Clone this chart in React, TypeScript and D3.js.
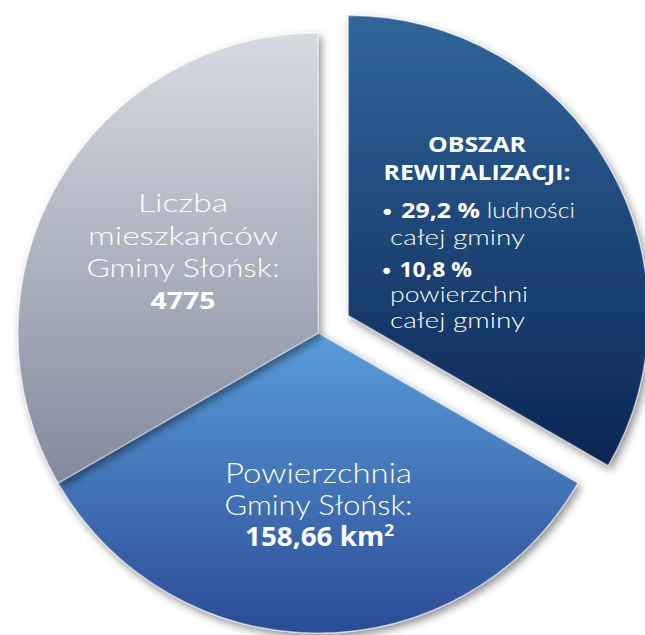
import React from "react";
import * as d3 from "d3";

const categories = ["OBSZAR REWITALIZACJI", "Powierzchnia", "Liczba mieszkańców"];
const values = [1, 1, 1];
const explode = [35, 0, 0];

const grayLines = ["Liczba", "mieszkańców", "Gminy Słońsk:"];
const grayValue = "4775";
const blueLines = ["Powierzchnia", "Gminy Słońsk:"];
const blueValue = "158,66 km";
const darkTitle = ["OBSZAR", "REWITALIZACJI:"];
const darkBullets = [
  { bold: "29,2 %", rest: [" ludności", "całej gminy"] },
  { bold: "10,8 %", rest: ["", "powierzchni", "całej gminy"] },
];

const W = 645;
const H = 635;
const cx = 318;
const cy = 333;
const R = 300;

const gradients = [
  ["#30669a", "#0b2554"],
  ["#5a9dd9", "#2a4c96"],
  ["#d6dbe2", "#838a9d"],
];

const grayW = [90, 190, 193];
const blueW = [187, 188];
const titleW = [98, 187];

export default function App() {
  const pie = d3.pie<number>().sort(null).value((d) => d)(values);
  const arc = d3.arc<d3.PieArcDatum<number>>().innerRadius(0).outerRadius(R);
  const light = "'Lato', 'Open Sans', sans-serif";
  const bold = "'Open Sans', sans-serif";
  const adj = "spacingAndGlyphs";
  return (
    <svg width={W} height={H} style={{ position: "absolute", left: 0, top: 0 }}>
      <defs>
        {gradients.map((g, i) => (
          <linearGradient key={i} id={`g${i}`} x1="0" y1="0" x2="0" y2="1">
            <stop offset="0%" stopColor={g[0]} />
            <stop offset="100%" stopColor={g[1]} />
          </linearGradient>
        ))}
        <filter id="sh" x="-20%" y="-20%" width="140%" height="140%">
          <feDropShadow dx="3" dy="4" stdDeviation="4" floodColor="#000" floodOpacity="0.45" />
        </filter>
      </defs>
      {pie.map((p, i) => {
        const mid = (p.startAngle + p.endAngle) / 2;
        const dx = Math.sin(mid) * explode[i];
        const dy = -Math.cos(mid) * explode[i];
        return (
          <g key={categories[i]} transform={`translate(${cx + dx},${cy + dy})`} filter="url(#sh)">
            <path d={arc(p) || ""} fill={`url(#g${i})`} stroke="rgba(255,255,255,0.35)" strokeWidth={1.5} />
          </g>
        );
      })}
      <g fill="#fff" textAnchor="middle">
        <g fontFamily={light} fontWeight={300}>
          {grayLines.map((t, i) => (
            <text key={t} x={183} y={212 + i * 32.5} fontSize={25.5} textLength={grayW[i]} lengthAdjust={adj}>{t}</text>
          ))}
          <text x={183} y={309} fontFamily={bold} fontWeight={700} fontSize={24} textLength={65} lengthAdjust={adj}>{grayValue}</text>
          {blueLines.map((t, i) => (
            <text key={t} x={318.5} y={483 + i * 31.5} fontSize={27.5} textLength={blueW[i]} lengthAdjust={adj}>{t}</text>
          ))}
          <text x={319.5} y={546} fontFamily={bold} fontWeight={700} fontSize={26} textLength={149} lengthAdjust={adj}>
            {blueValue}
            <tspan fontSize={16} dy={-10}>2</tspan>
          </text>
        </g>
        <g fontFamily={bold} fontWeight={700} fontSize={21.5}>
          {darkTitle.map((t, i) => (
            <text key={t} x={477} y={151.5 + i * 28.5} textLength={titleW[i]} lengthAdjust={adj}>{t}</text>
          ))}
        </g>
      </g>
      <g fill="#fff" fontSize={21} fontFamily={light} fontWeight={300}>
        <text x={380} y={218} textLength={195} lengthAdjust={adj}>
          <tspan>• </tspan>
          <tspan fontFamily={bold} fontWeight={700}>{darkBullets[0].bold}</tspan>
          <tspan>{darkBullets[0].rest[0]}</tspan>
        </text>
        <text x={390} y={245} textLength={135} lengthAdjust={adj}>{darkBullets[0].rest[1]}</text>
        <text x={380} y={277} textLength={92} lengthAdjust={adj}>
          <tspan>• </tspan>
          <tspan fontFamily={bold} fontWeight={700}>{darkBullets[1].bold}</tspan>
        </text>
        <text x={390} y={302} textLength={138} lengthAdjust={adj}>{darkBullets[1].rest[1]}</text>
        <text x={390} y={328} textLength={135} lengthAdjust={adj}>{darkBullets[1].rest[2]}</text>
      </g>
    </svg>
  );
}
